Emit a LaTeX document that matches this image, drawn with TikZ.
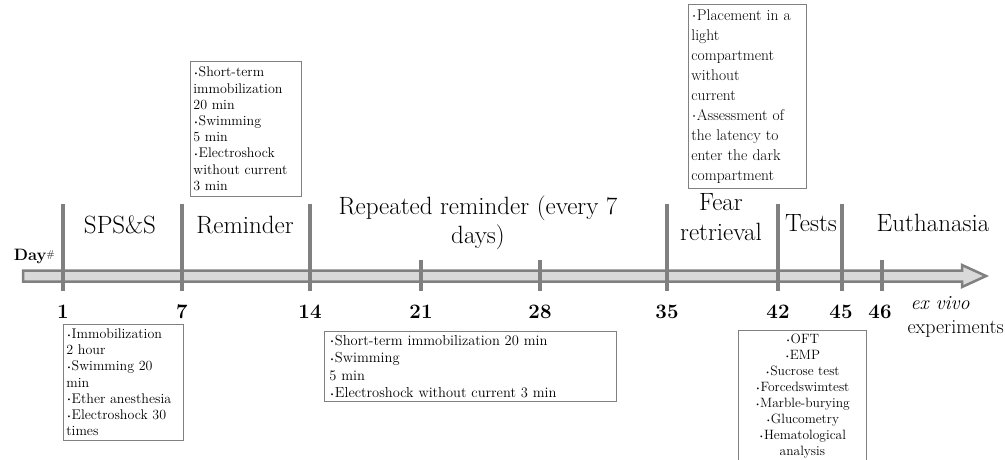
\documentclass[tikz,border=0pt]{standalone}
\usepackage{fontspec}
\usepackage{graphicx}
\definecolor{tickgray}{HTML}{808080}
\definecolor{barfill}{HTML}{D9D9D9}
\newcommand{\bul}{\raisebox{0.25ex}{\scalebox{0.5}{\textbullet}}}
\begin{document}
\begin{tikzpicture}[x=1pt,y=-1pt,
  tick/.style={draw=tickgray, line width=3.5pt},
  infobox/.style={draw=tickgray, line width=0.8pt, anchor=north west, inner xsep=3pt, inner ysep=0pt, align=left, font=\fontsize{14}{16.2}\selectfont},
  phase/.style={font=\fontsize{25}{29}\selectfont, align=center, inner sep=0pt},
  daynum/.style={font=\fontsize{20.5}{20.5}\selectfont\bfseries, inner sep=0pt}]
\useasboundingbox (0,0) rectangle (1005,459);
% timeline bar
\filldraw[fill=barfill, draw=tickgray, line width=2.5pt, line join=miter]
  (23,270.5) -- (962,270.5) -- (962,265) -- (986,276) -- (962,287) -- (962,281.5) -- (23,281.5) -- cycle;
% tall ticks
\foreach \x in {63,182,310,667,778,842} \draw[tick] (\x,204) -- (\x,291);
% short ticks
\foreach \x in {421,540,882} \draw[tick] (\x,260) -- (\x,291);
% day numbers
\node[daynum] (d1) at (63,312) {1};
\node[daynum] (d7) at (182,312) {7};
\node[daynum] (d14) at (310,312) {14};
\node[daynum] (d21) at (421,312) {21};
\node[daynum] (d28) at (540,312) {28};
\node[daynum] (d35) at (667,312) {35};
\node[daynum] (d42) at (778,312) {42};
\node[daynum] (d45) at (841,312) {45};
\node[daynum] (d46) at (880,312) {46};
\node[font=\fontsize{16.5}{16.5}\selectfont\bfseries, inner sep=0pt, anchor=east] (day) at (55,256) {Day\raisebox{0.3ex}{\normalfont\fontsize{10}{10}\selectfont\#}};
% phase labels
\node[phase] (sps) at (120,225) {SPS\&S};
\node[phase] (rem) at (245,225) {Reminder};
\node[phase] (rep) at (478,223) {Repeated reminder (every 7\\days)};
\node[phase, font=\fontsize{25}{30}\selectfont] (fear) at (721,217) {Fear\\retrieval};
\node[phase] (tests) at (811,223) {Tests};
\node[phase] (euth) at (933,223) {Euthanasia};
\node[font=\fontsize{20}{20}\selectfont\itshape, inner sep=0pt] (exv) at (940,303) {ex vivo};
\node[font=\fontsize{20}{20}\selectfont, inner sep=0pt, anchor=east] (expt) at (1004,329) {experiments};
% boxes
\node[infobox, text width=105pt, minimum height=135pt] (b1) at (190,61)
  {\bul Short-term\\immobilization\\20 min\\\bul Swimming\\5 min\\\bul Electroshock\\without current\\3 min};
\node[infobox, text width=112pt, minimum height=184pt, font=\fontsize{15.5}{20}\selectfont] (b2) at (688,4)
  {\bul Placement in a\\light\\compartment\\without\\current\\\bul Assessment of\\the latency to\\enter the dark\\compartment};
\node[infobox, text width=114pt, minimum height=116pt] (b3) at (63,324)
  {\bul Immobilization\\2 hour\\\bul Swimming 20\\min\\\bul Ether anesthesia\\\bul Electroshock 30\\times};
\node[infobox, text width=282pt, minimum height=70pt, font=\fontsize{14.5}{17.5}\selectfont, inner xsep=5pt] (b4) at (324,331)
  {\bul Short-term immobilization 20 min\\\bul Swimming\\5 min\\\bul Electroshock without current 3 min};
\node[infobox, text width=122pt, inner ysep=4pt, text depth=140pt, align=center, font=\fontsize{13.5}{16}\selectfont] (b5) at (738,330)
  {\bul OFT\\\bul EMP\\\bul Sucrose test\\\bul Forcedswimtest\\\bul Marble-burying\\\bul Glucometry\\\bul Hematological\\analysis};
\end{tikzpicture}
\end{document}
